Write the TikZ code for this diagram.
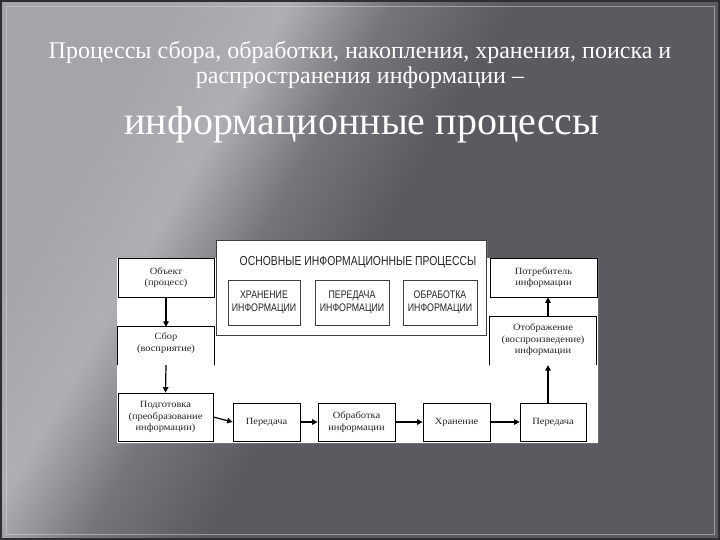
\documentclass[tikz,border=0pt]{standalone}
\usepackage{fontspec}
\setmainfont{Liberation Serif}
\newfontfamily\narrowsf[FakeStretch=0.8]{Liberation Sans}
\newfontfamily\wideserif[FakeStretch=1.1]{Liberation Serif}
\usetikzlibrary{arrows.meta}
\definecolor{bgl}{HTML}{A4A4AA}
\definecolor{bgb}{HTML}{AEAEB3}
\definecolor{bgm}{HTML}{75757B}
\definecolor{bgd}{HTML}{5A5A60}
\definecolor{edge}{HTML}{2E2E33}
\pgfdeclarehorizontalshading{slidebg}{100bp}{color(0bp)=(bgl); color(27bp)=(bgl); color(35bp)=(bgb); color(42bp)=(bgm); color(50bp)=(bgd); color(100bp)=(bgd)}
\tikzset{
  box/.style={draw=black, line width=0.8pt, fill=white, align=center, inner sep=0pt,
    text=black!85, font=\wideserif\fontsize{9.5}{11.5}\selectfont},
  openbox/.style={align=center, inner sep=0pt, text=black!85, font=\wideserif\fontsize{9.5}{11.5}\selectfont},
  capbox/.style={draw=black!75, line width=0.8pt, align=center, inner sep=0pt,
    text=black!85, font=\narrowsf\fontsize{11}{12.5}\selectfont},
  arr/.style={-{Triangle[length=5.5pt,width=5.5pt]}, line width=1.2pt, black},
  ttl/.style={text=white, align=center, inner sep=0pt},
}
\begin{document}
\begin{tikzpicture}[x=1pt,y=-1pt]
\useasboundingbox (0,0) rectangle (720,540);
% background
\shade[shading=slidebg, shading angle=-30] (0,0) rectangle (720,540);
\draw[edge, line width=4pt] (0,0) rectangle (720,540);
\draw[white!70!gray, opacity=0.5, line width=0.6pt] (6,6) rectangle (714,534);

% titles
\node[ttl, font=\fontsize{24}{27}\selectfont] (t1) at (360,52) {Процессы сбора, обработки, накопления, хранения, поиска и};
\node[ttl, font=\fontsize{24}{27}\selectfont] (t2) at (360,78) {распространения информации –};
\node[ttl, font=\fontsize{40}{44}\selectfont] (t3) at (362,125) {информационные процессы};

% white picture area
\fill[white] (117,258) -- (216,258) -- (216,240) -- (487,240) -- (487,258) -- (598,258)
  -- (598,443) -- (117,443) -- cycle;

% frame of main processes
\node[draw=black!75, line width=0.8pt, fill=white, minimum width=270pt, minimum height=95pt,
  inner sep=0pt] (frame) at (351,287.5) {};
\node[inner sep=0pt, text=black!85, font=\narrowsf\fontsize{13}{14}\selectfont] (ftitle) at (358,262)
  {ОСНОВНЫЕ ИНФОРМАЦИОННЫЕ ПРОЦЕССЫ};
\node[capbox, minimum width=72pt, minimum height=45pt] (h1) at (264,302.5) {ХРАНЕНИЕ\\ИНФОРМАЦИИ};
\node[capbox, minimum width=74pt, minimum height=45pt] (h2) at (352,302.5) {ПЕРЕДАЧА\\ИНФОРМАЦИИ};
\node[capbox, minimum width=74pt, minimum height=45pt] (h3) at (440,302.5) {ОБРАБОТКА\\ИНФОРМАЦИИ};

% left column
\node[box, minimum width=96pt, minimum height=39pt] (obj) at (166,277.5) {Объект\\(процесс)};
\node[openbox, minimum width=96pt, minimum height=38pt] (sbor) at (166,346) {};
\node[openbox] (sbortxt) at (166,343) {Сбор\\(восприятие)};
\draw[black, line width=0.8pt] (sbor.south west) -- (sbor.north west) -- (sbor.north east) -- (sbor.south east);
\node[box, minimum width=95pt, minimum height=48pt] (prep) at (165.5,417) {Подготовка\\(преобразование\\информации)};

% bottom row
\node[box, minimum width=67pt, minimum height=38pt] (per1) at (266.5,422) {Передача};
\node[box, minimum width=77pt, minimum height=38pt] (obr) at (356.5,422) {Обработка\\информации};
\node[box, minimum width=67pt, minimum height=38pt] (hran) at (456.5,422) {Хранение};
\node[box, minimum width=66pt, minimum height=38pt] (per2) at (553,422) {Передача};

% right column
\node[openbox, minimum width=106pt, minimum height=48pt] (otob) at (543,341) {};
\node[openbox] (otobtxt) at (543,340) {Отображение\\(воспроизведение)\\информации};
\draw[black, line width=0.8pt] (otob.south west) -- (otob.north west) -- (otob.north east) -- (otob.south east);
\node[box, minimum width=107pt, minimum height=39pt] (potr) at (543.5,277.5) {Потребитель\\информации};

% connectors
\draw[arr] (obj.south) -- (sbor.north);
\draw[arr] (sbor.south) -- (prep.north);
\draw[arr] (prep.east) -- (per1.west);
\draw[arr] (per1.east) -- (obr.west);
\draw[arr] (obr.east) -- (hran.west);
\draw[arr] (hran.east) -- (per2.west);
\draw[arr] ([xshift=-5pt]per2.north) -- ([xshift=5pt]otob.south);
\draw[arr] ([xshift=5pt]otob.north) -- ([xshift=4.5pt]potr.south);
\end{tikzpicture}
\end{document}
